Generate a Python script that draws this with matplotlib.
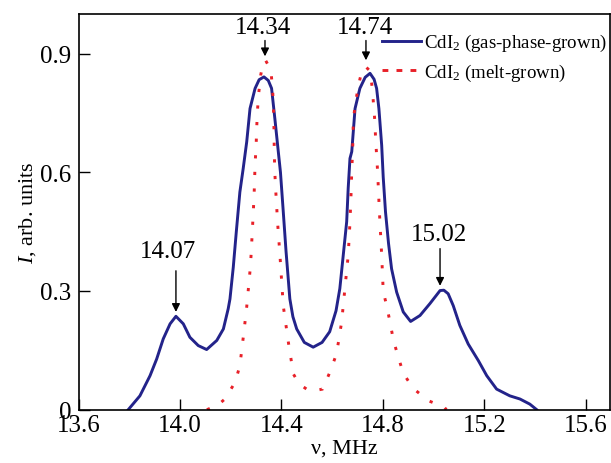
import matplotlib
matplotlib.use("Agg")
import matplotlib.pyplot as plt
from matplotlib.lines import Line2D

plt.rcParams['font.family'] = ['Liberation Serif', 'DejaVu Serif']
plt.rcParams['mathtext.fontset'] = 'custom'
plt.rcParams['mathtext.rm'] = 'Liberation Serif'
plt.rcParams['mathtext.it'] = 'Liberation Serif:italic'

# gas-phase-grown sample (solid blue)
gas_nu = [13.796, 13.842, 13.882, 13.908, 13.934, 13.961, 13.984, 14.013, 14.039, 14.072,
          14.105, 14.145, 14.171, 14.19, 14.197, 14.21, 14.222, 14.236, 14.249, 14.263,
          14.276, 14.296, 14.312, 14.331, 14.348, 14.361, 14.374, 14.387, 14.396, 14.406,
          14.418, 14.433, 14.445, 14.46, 14.49, 14.525, 14.56, 14.59, 14.615, 14.63,
          14.645, 14.657, 14.663, 14.67, 14.677, 14.69, 14.709, 14.73, 14.749, 14.765,
          14.775, 14.784, 14.795, 14.801, 14.81, 14.822, 14.834, 14.854, 14.88, 14.909,
          14.946, 14.985, 15.025, 15.04, 15.057, 15.077, 15.103, 15.136, 15.176, 15.209,
          15.248, 15.3, 15.34, 15.379, 15.406]
gas_I = [0.0, 0.035, 0.086, 0.128, 0.179, 0.217, 0.236, 0.217, 0.183, 0.162,
         0.152, 0.175, 0.204, 0.255, 0.28, 0.36, 0.45, 0.55, 0.609, 0.677,
         0.761, 0.812, 0.834, 0.841, 0.832, 0.812, 0.735, 0.655, 0.60, 0.51,
         0.40, 0.28, 0.235, 0.204, 0.17, 0.158, 0.17, 0.197, 0.25, 0.306,
         0.40, 0.475, 0.56, 0.635, 0.652, 0.761, 0.812, 0.84, 0.85, 0.835,
         0.812, 0.761, 0.668, 0.588, 0.50, 0.42, 0.356, 0.297, 0.247, 0.223,
         0.238, 0.268, 0.301, 0.302, 0.293, 0.263, 0.213, 0.166, 0.124, 0.086,
         0.052, 0.035, 0.027, 0.014, 0.0]

# melt-grown sample (red dotted)
melt_nu = [14.106, 14.15, 14.177, 14.217, 14.236, 14.252, 14.263, 14.278, 14.285, 14.292,
           14.296, 14.300, 14.302, 14.305, 14.309, 14.318, 14.328, 14.338, 14.35, 14.359,
           14.365, 14.368, 14.370, 14.371, 14.372, 14.374, 14.377, 14.385, 14.394, 14.407,
           14.427, 14.447, 14.47, 14.499, 14.53, 14.562, 14.591, 14.617, 14.637, 14.65,
           14.663, 14.67, 14.675, 14.677, 14.68, 14.682, 14.683, 14.692, 14.703, 14.718,
           14.733, 14.749, 14.758, 14.763, 14.768, 14.771, 14.775, 14.779, 14.786, 14.795,
           14.801, 14.815, 14.828, 14.841, 14.86, 14.88, 14.919, 14.978, 15.042, 15.05]
melt_I = [0.0, 0.012, 0.027, 0.069, 0.111, 0.197, 0.26, 0.365, 0.45, 0.54,
          0.622, 0.664, 0.708, 0.75, 0.792, 0.845, 0.878, 0.882, 0.868, 0.852,
          0.81, 0.77, 0.725, 0.683, 0.639, 0.597, 0.558, 0.47, 0.39, 0.263,
          0.171, 0.09, 0.065, 0.052, 0.048, 0.052, 0.095, 0.141, 0.221, 0.306,
          0.39, 0.474, 0.558, 0.605, 0.647, 0.69, 0.732, 0.776, 0.818, 0.86,
          0.866, 0.856, 0.812, 0.77, 0.729, 0.685, 0.643, 0.601, 0.50, 0.39,
          0.30, 0.261, 0.221, 0.176, 0.134, 0.092, 0.054, 0.023, 0.006, 0.0]

# peak labels: text, text position, arrow x, arrow tail, arrow tip
peak_labels = ["14.07", "14.34", "14.74", "15.02"]
label_pos = [(13.953, 0.402), (14.327, 0.968), (14.729, 0.968), (15.019, 0.444)]
arrow_x = [13.984, 14.335, 14.733, 15.025]
arrow_tail = [0.351, 0.933, 0.933, 0.407]
arrow_tip = [0.247, 0.893, 0.883, 0.313]

x_ticks = [13.6, 14.0, 14.4, 14.8, 15.2, 15.6]
y_ticks = [0, 0.3, 0.6, 0.9]
y_ticklabels = ["0", "0.3", "0.6", "0.9"]

blue = '#23238a'
red = '#e82028'

fig = plt.figure(figsize=(6.11, 4.64), dpi=100)
ax = fig.add_axes([0.1285, 0.1149, 0.8699, 0.8528])

ax.plot(gas_nu, gas_I, color=blue, lw=2.1, solid_joinstyle='round')
ax.plot(melt_nu, melt_I, color=red, lw=2.1, linestyle=(0, (1.1, 4.6)),
        dash_capstyle='butt')

for txt, (tx, ty), ax_x, t0, t1 in zip(peak_labels, label_pos, arrow_x, arrow_tail, arrow_tip):
    ax.text(tx, ty, txt, ha='center', va='center', fontsize=18)
    ax.annotate('', xy=(ax_x, t1), xytext=(ax_x, t0),
                arrowprops=dict(arrowstyle='-|>', color='black', lw=1.0,
                                mutation_scale=12, shrinkA=0, shrinkB=0))

ax.set_xlim(13.6, 15.695)
ax.set_ylim(0, 1.0)
ax.set_xticks(x_ticks)
ax.set_xticklabels([f"{v:.1f}" for v in x_ticks])
ax.set_yticks(y_ticks)
ax.set_yticklabels(y_ticklabels)
ax.tick_params(axis='both', direction='in', length=8, width=1.0, labelsize=18)
ax.tick_params(axis='x', pad=3)
ax.tick_params(axis='y', pad=5)
for sp in ax.spines.values():
    sp.set_linewidth(1.2)

ax.set_xlabel('ν, MHz', fontsize=16, labelpad=2)
ax.set_ylabel('$I$, arb. units', fontsize=16, labelpad=2)

handles = [Line2D([], [], color=blue, lw=2.1),
           Line2D([], [], color=red, lw=2.1, linestyle=(0, (2.0, 2.8)))]
ax.legend(handles, ['CdI$_2$ (gas-phase-grown)', 'CdI$_2$ (melt-grown)'],
          loc='upper right', bbox_to_anchor=(1.012, 0.978), frameon=False, fontsize=13.6,
          handlelength=2.1, handletextpad=0.15, labelspacing=0.45, borderaxespad=0.1)

fig.savefig('out.png', dpi=100)
